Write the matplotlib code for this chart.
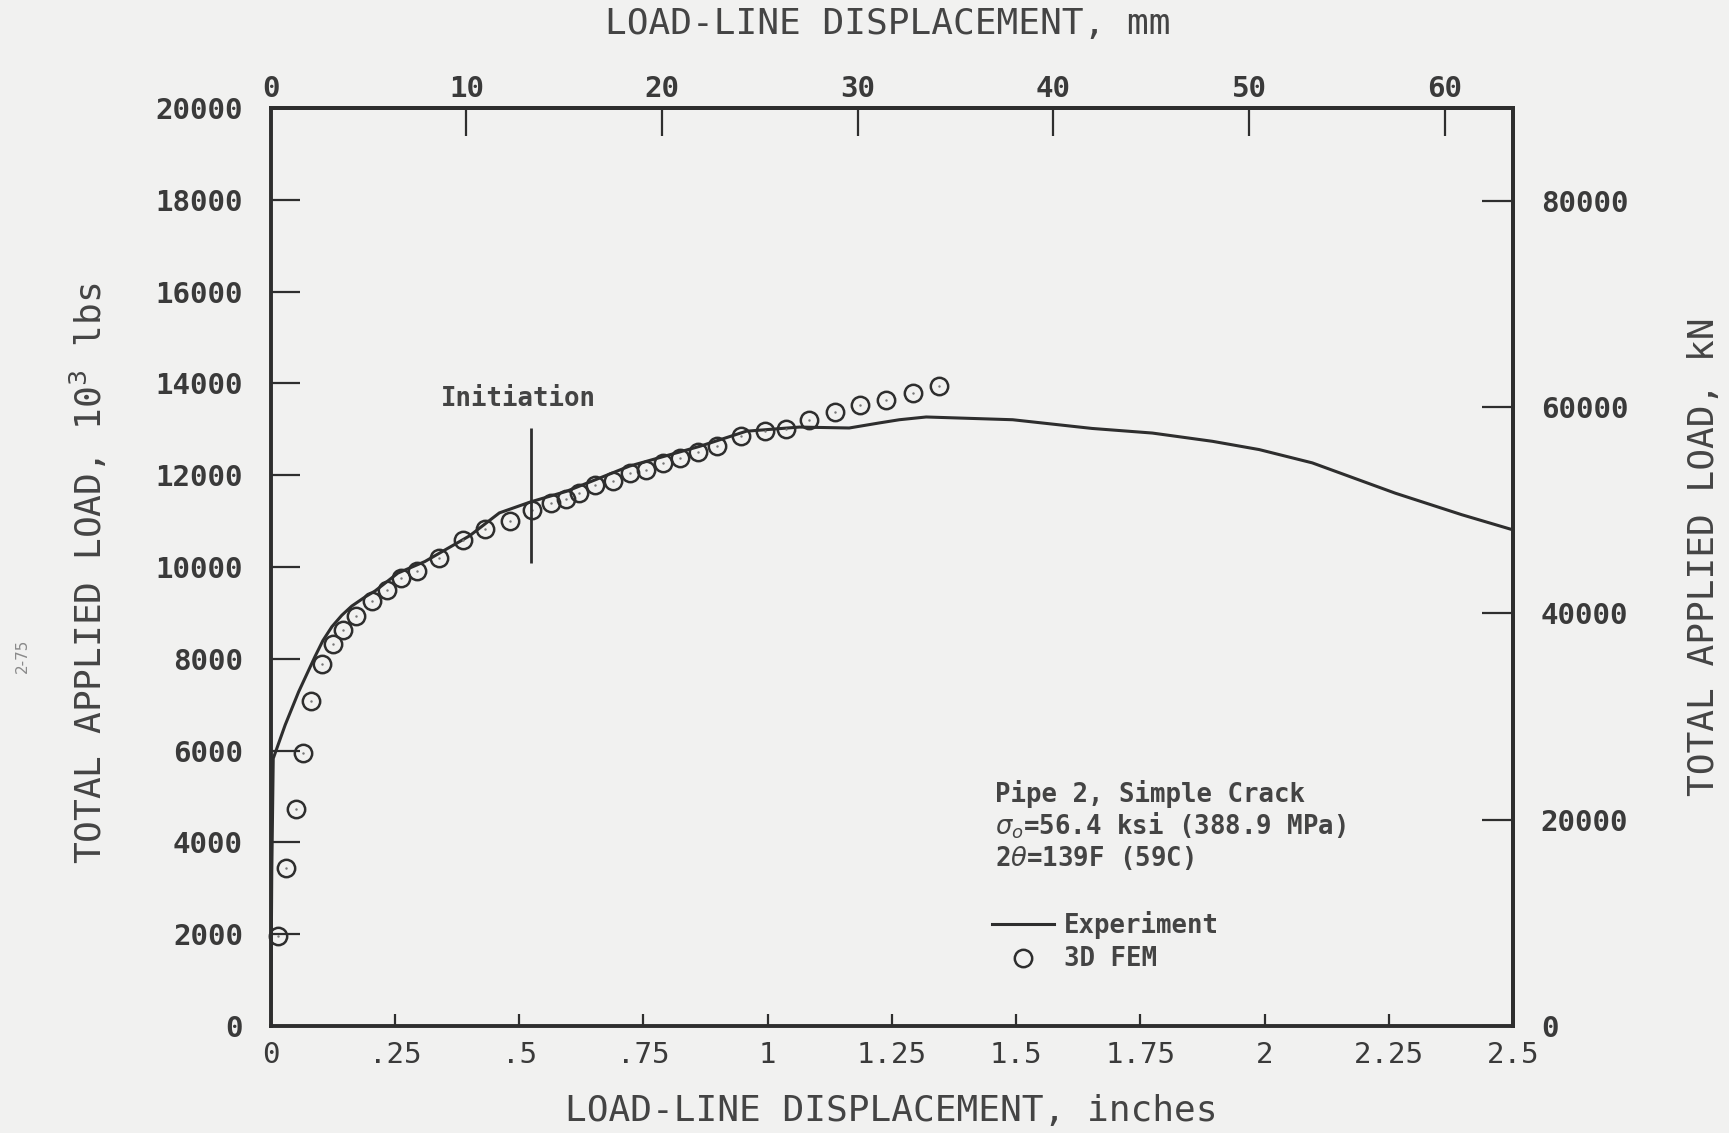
import numpy as np
import matplotlib as mpl
mpl.use('Agg')
import matplotlib.pyplot as plt


# experiment curve, inches vs 10^3 lbs
exp_x = [0.0, 0.002, 0.005, 0.029, 0.056, 0.089, 0.105, 0.123, 0.143, 0.163, 0.19, 0.21, 0.256,
         0.31, 0.40, 0.46, 0.523, 0.595, 0.722, 0.863, 0.957, 1.064, 1.164, 1.2245, 1.265,
         1.319, 1.493, 1.653, 1.774, 1.895, 1.989, 2.096, 2.263, 2.397, 2.5]
exp_y = [0, 3300, 5830, 6560, 7280, 8050, 8400, 8700, 8950, 9150, 9350, 9480, 9870,
         10120, 10680, 11180, 11420, 11650, 12200, 12630, 12960, 13050, 13030, 13140, 13210,
         13270, 13210, 13020, 12920, 12740, 12560, 12270, 11610, 11140, 10810]

# 3D FEM points
fem_x = [0.015, 0.030, 0.051, 0.064, 0.081, 0.103, 0.126, 0.146, 0.171, 0.203, 0.234, 0.263,
         0.295, 0.338, 0.387, 0.431, 0.481, 0.525, 0.563, 0.595, 0.620, 0.652, 0.689, 0.722,
         0.756, 0.789, 0.823, 0.859, 0.898, 0.947, 0.994, 1.037, 1.083, 1.136, 1.186, 1.238,
         1.292, 1.345]
fem_y = [1970, 3440, 4720, 5940, 7080, 7880, 8320, 8630, 8940, 9250, 9500, 9760,
         9920, 10200, 10580, 10820, 11000, 11250, 11400, 11490, 11610, 11780, 11870, 12050,
         12120, 12270, 12380, 12510, 12630, 12860, 12970, 13000, 13210, 13380, 13540, 13650,
         13800, 13940]

init_x = 0.523
init_y = [10090, 13030]

x_ticks = [0, 0.25, 0.5, 0.75, 1, 1.25, 1.5, 1.75, 2, 2.25, 2.5]
x_ticklabels = ['0', '.25', '.5', '.75', '1', '1.25', '1.5', '1.75', '2', '2.25', '2.5']
y_ticks = list(range(0, 20001, 2000))
mm_ticks = [0, 10, 20, 30, 40, 50, 60]
kn_ticks = [0, 20000, 40000, 60000, 80000]

info_lines = ['Pipe 2, Simple Crack', r'$\sigma_o$=56.4 ksi (388.9 MPa)', r'2$\theta$=139F (59C)']

ink = '#2e2e2e'
paper = '#f1f1f0'
mono = 'DejaVu Sans Mono'
tsize = 18.5

fig = plt.figure(figsize=(17.29, 11.33), dpi=100, facecolor=paper)
ax = fig.add_axes([0.1566, 0.0944, 0.7185, 0.8102], facecolor=paper)

ax.plot(exp_x, exp_y, color=ink, lw=2.2, label='Experiment')
ax.plot(fem_x, fem_y, 'o', mfc='none', mec=ink, ms=12.5, mew=1.8, clip_on=False, label='3D FEM')
ax.plot(fem_x, fem_y, '.', color='#777777', ms=1.5, clip_on=False)
ax.vlines(init_x, init_y[0], init_y[1], color=ink, lw=2)
ax.text(0.499, 13660, 'Initiation', family=mono, fontsize=tsize, weight='bold',
        color='#444444', ha='center', va='center')

for i, s in enumerate(info_lines):
  ax.text(1.458, 5055 - i * 697, s, family=mono, fontsize=tsize, weight='bold',
          color='#444444', ha='left', va='center')

leg = ax.legend(loc='upper left', bbox_to_anchor=(0.5806, 0.125), frameon=False,
                prop={'family': mono, 'size': tsize, 'weight': 'bold'}, handlelength=2.4,
                handletextpad=0.4, labelspacing=0.28, borderpad=0, borderaxespad=0)
for t in leg.get_texts():
  t.set_color('#444444')

ax.set_xlim(0, 2.5)
ax.set_ylim(0, 20000)
ax.set_xticks(x_ticks)
ax.set_xticklabels(x_ticklabels)
ax.set_yticks(y_ticks)
ax.set_yticklabels([str(v) for v in y_ticks])

for sp in ax.spines.values():
  sp.set_linewidth(2.8)
  sp.set_color(ink)

ax.tick_params(axis='y', direction='in', length=21, width=1.6, color=ink, pad=20,
               labelsize=21, labelcolor='#3a3a3a')
ax.tick_params(axis='x', direction='in', length=9, width=1.6, color=ink, pad=11,
               labelsize=21, labelcolor='#3a3a3a')
for lab in ax.get_yticklabels():
  lab.set_family(mono)
  lab.set_weight('bold')
for lab in ax.get_xticklabels():
  lab.set_family(mono)

top = ax.secondary_xaxis('top', functions=(lambda x: x * 25.4, lambda x: x / 25.4))
top.set_xticks(mm_ticks)
top.tick_params(direction='in', length=20, width=1.6, color=ink, pad=4,
                labelsize=21, labelcolor='#3a3a3a')
for lab in top.get_xticklabels():
  lab.set_family(mono)
  lab.set_weight('bold')
top.spines['top'].set_linewidth(2.8)
top.spines['top'].set_color(ink)

right = ax.secondary_yaxis('right', functions=(lambda y: y * 4.448, lambda y: y / 4.448))
right.set_yticks(kn_ticks)
right.set_yticklabels([str(v) for v in kn_ticks])
right.tick_params(direction='in', length=22, width=1.6, color=ink, pad=20,
                  labelsize=21, labelcolor='#3a3a3a')
for lab in right.get_yticklabels():
  lab.set_family(mono)
  lab.set_weight('bold')
right.spines['right'].set_linewidth(2.8)
right.spines['right'].set_color(ink)

# axis titles
ax.set_xlabel('LOAD-LINE DISPLACEMENT, inches', family=mono, fontsize=26, color='#444444')
ax.xaxis.set_label_coords(0.4993, -0.0926)
ax.xaxis.label.set_va('center')
ax.set_ylabel(r'TOTAL APPLIED LOAD, 10$^3$ lbs', family=mono, fontsize=26, color='#444444')
ax.yaxis.set_label_coords(-0.147, 0.4935)
ax.yaxis.label.set_va('center')
fig.text(0.5136, 0.9788, 'LOAD-LINE DISPLACEMENT, mm', family=mono, fontsize=26,
         color='#444444', ha='center', va='center')
fig.text(0.9855, 0.5084, 'TOTAL APPLIED LOAD, kN', family=mono, fontsize=26,
         color='#444444', rotation=90, ha='center', va='center')

fig.text(0.0127, 0.421, '2-75', rotation=90, fontsize=11, color='#8a8a8a', ha='center', va='center')

plt.savefig('out.png', dpi=100, facecolor=paper)
